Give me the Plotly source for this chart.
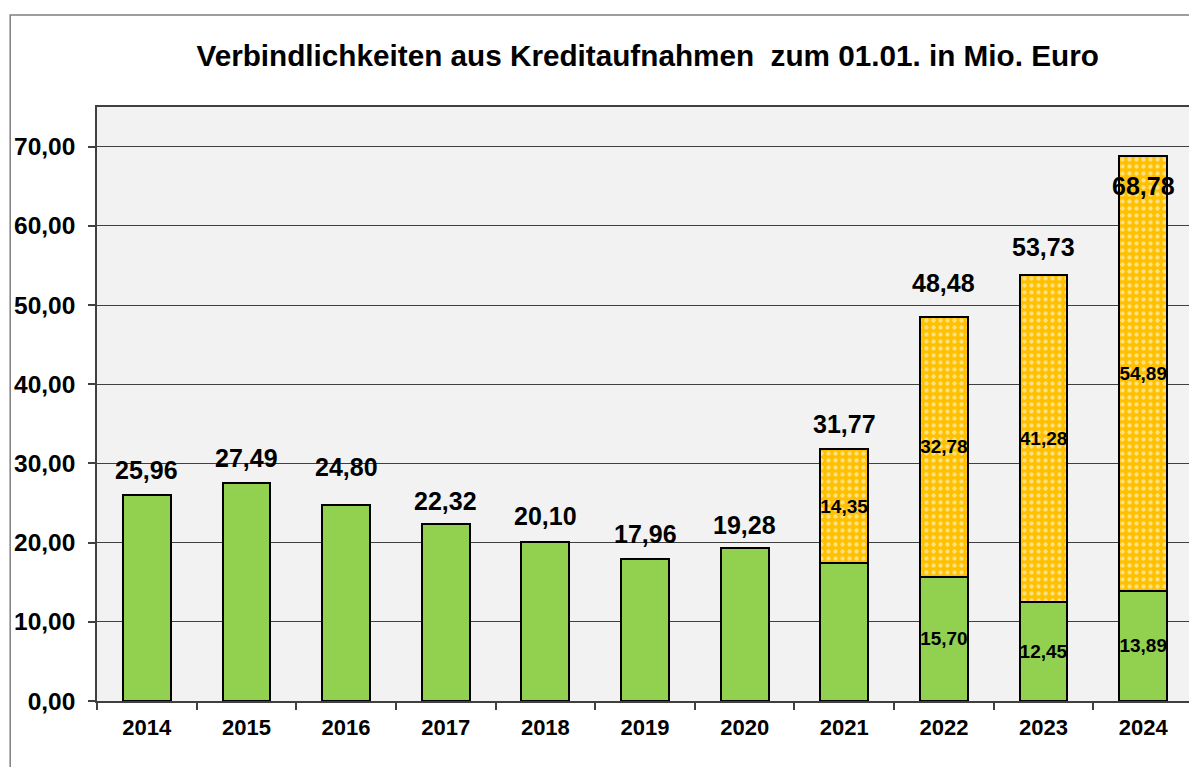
import plotly.graph_objects as go

years = ["2014", "2015", "2016", "2017", "2018", "2019", "2020", "2021", "2022", "2023", "2024"]
green_vals = [25.96, 27.49, 24.80, 22.32, 20.10, 17.96, 19.28, 17.42, 15.70, 12.45, 13.89]
orange_vals = [0, 0, 0, 0, 0, 0, 0, 14.35, 32.78, 41.28, 54.89]
totals = [25.96, 27.49, 24.80, 22.32, 20.10, 17.96, 19.28, 31.77, 48.48, 53.73, 68.78]
show_green_label = [False] * 8 + [True] * 3
y_ticks = [0, 10, 20, 30, 40, 50, 60, 70]

# label offsets (pixels) of the total labels above the bars
label_shift = [25, 25, 38, 23, 26, 25, 23, 25, 34, 28, -30]

FONT = "Arial, Liberation Sans, sans-serif"


def fmt(v):
    return f"{v:.2f}".replace(".", ",")


green_text = [fmt(v) if s else "" for v, s in zip(green_vals, show_green_label)]
orange_text = [fmt(v) if v > 0 else "" for v in orange_vals]

fig = go.Figure()
fig.add_trace(go.Bar(
    x=years, y=green_vals, text=green_text,
    marker=dict(color="#92D050", line=dict(color="black", width=2)),
    textposition="inside", insidetextanchor="middle", textangle=0,
    constraintext="none",
    textfont=dict(family=FONT, size=19, color="black", weight="bold"),
    hoverinfo="skip",
))
fig.add_trace(go.Bar(
    x=years, y=orange_vals, text=orange_text,
    marker=dict(color="#FFC000", line=dict(color="black", width=2),
                pattern=dict(shape=".", fgcolor="white", size=7, solidity=0.3,
                             fillmode="overlay")),
    textposition="inside", insidetextanchor="middle", textangle=0,
    constraintext="none",
    textfont=dict(family=FONT, size=19, color="black", weight="bold"),
    hoverinfo="skip",
))

for i, (t, s) in enumerate(zip(totals, label_shift)):
    fig.add_annotation(x=i, y=t, xref="x", yref="y", text=fmt(t), showarrow=False,
                       yshift=s,
                       font=dict(family=FONT, size=25, color="black", weight="bold"))

fig.add_shape(type="rect", xref="paper", yref="paper",
              x0=-0.0792, x1=1.05, y0=-0.3, y1=1.1549,
              line=dict(color="#7F7F7F", width=1.5), layer="below")

fig.update_layout(
    width=1189, height=759,
    barmode="stack", bargap=0.52, showlegend=False,
    separators=",.",
    paper_bgcolor="white", plot_bgcolor="#F2F2F2",
    margin=dict(l=89, r=2, t=99, b=66),
    title=dict(text="Verbindlichkeiten aus Kreditaufnahmen  zum 01.01. in Mio. Euro",
               x=0.538, xanchor="center", y=0.937, yanchor="middle",
               font=dict(family=FONT, size=29.7, color="black", weight="bold")),
    xaxis=dict(type="category", range=[-0.5, 10.5], tickson="boundaries",
               ticks="outside", ticklen=7,
               tickcolor="#404040", tickwidth=1.5, ticklabelstandoff=6,
               showline=True, linecolor="#404040", linewidth=1.5, mirror=True,
               showgrid=False,
               tickfont=dict(family=FONT, size=22, color="black", weight="bold")),
    yaxis=dict(range=[0, 75], tickvals=y_ticks, tickformat=".2f",
               ticks="outside", ticklen=7, tickcolor="#404040", tickwidth=1.5,
               ticklabelstandoff=8,
               showline=True, linecolor="#404040", linewidth=1.5, mirror=True,
               showgrid=True, gridcolor="#404040", gridwidth=1.2,
               zeroline=False,
               tickfont=dict(family=FONT, size=24.5, color="black", weight="bold")),
)

fig.write_html("out.html")
